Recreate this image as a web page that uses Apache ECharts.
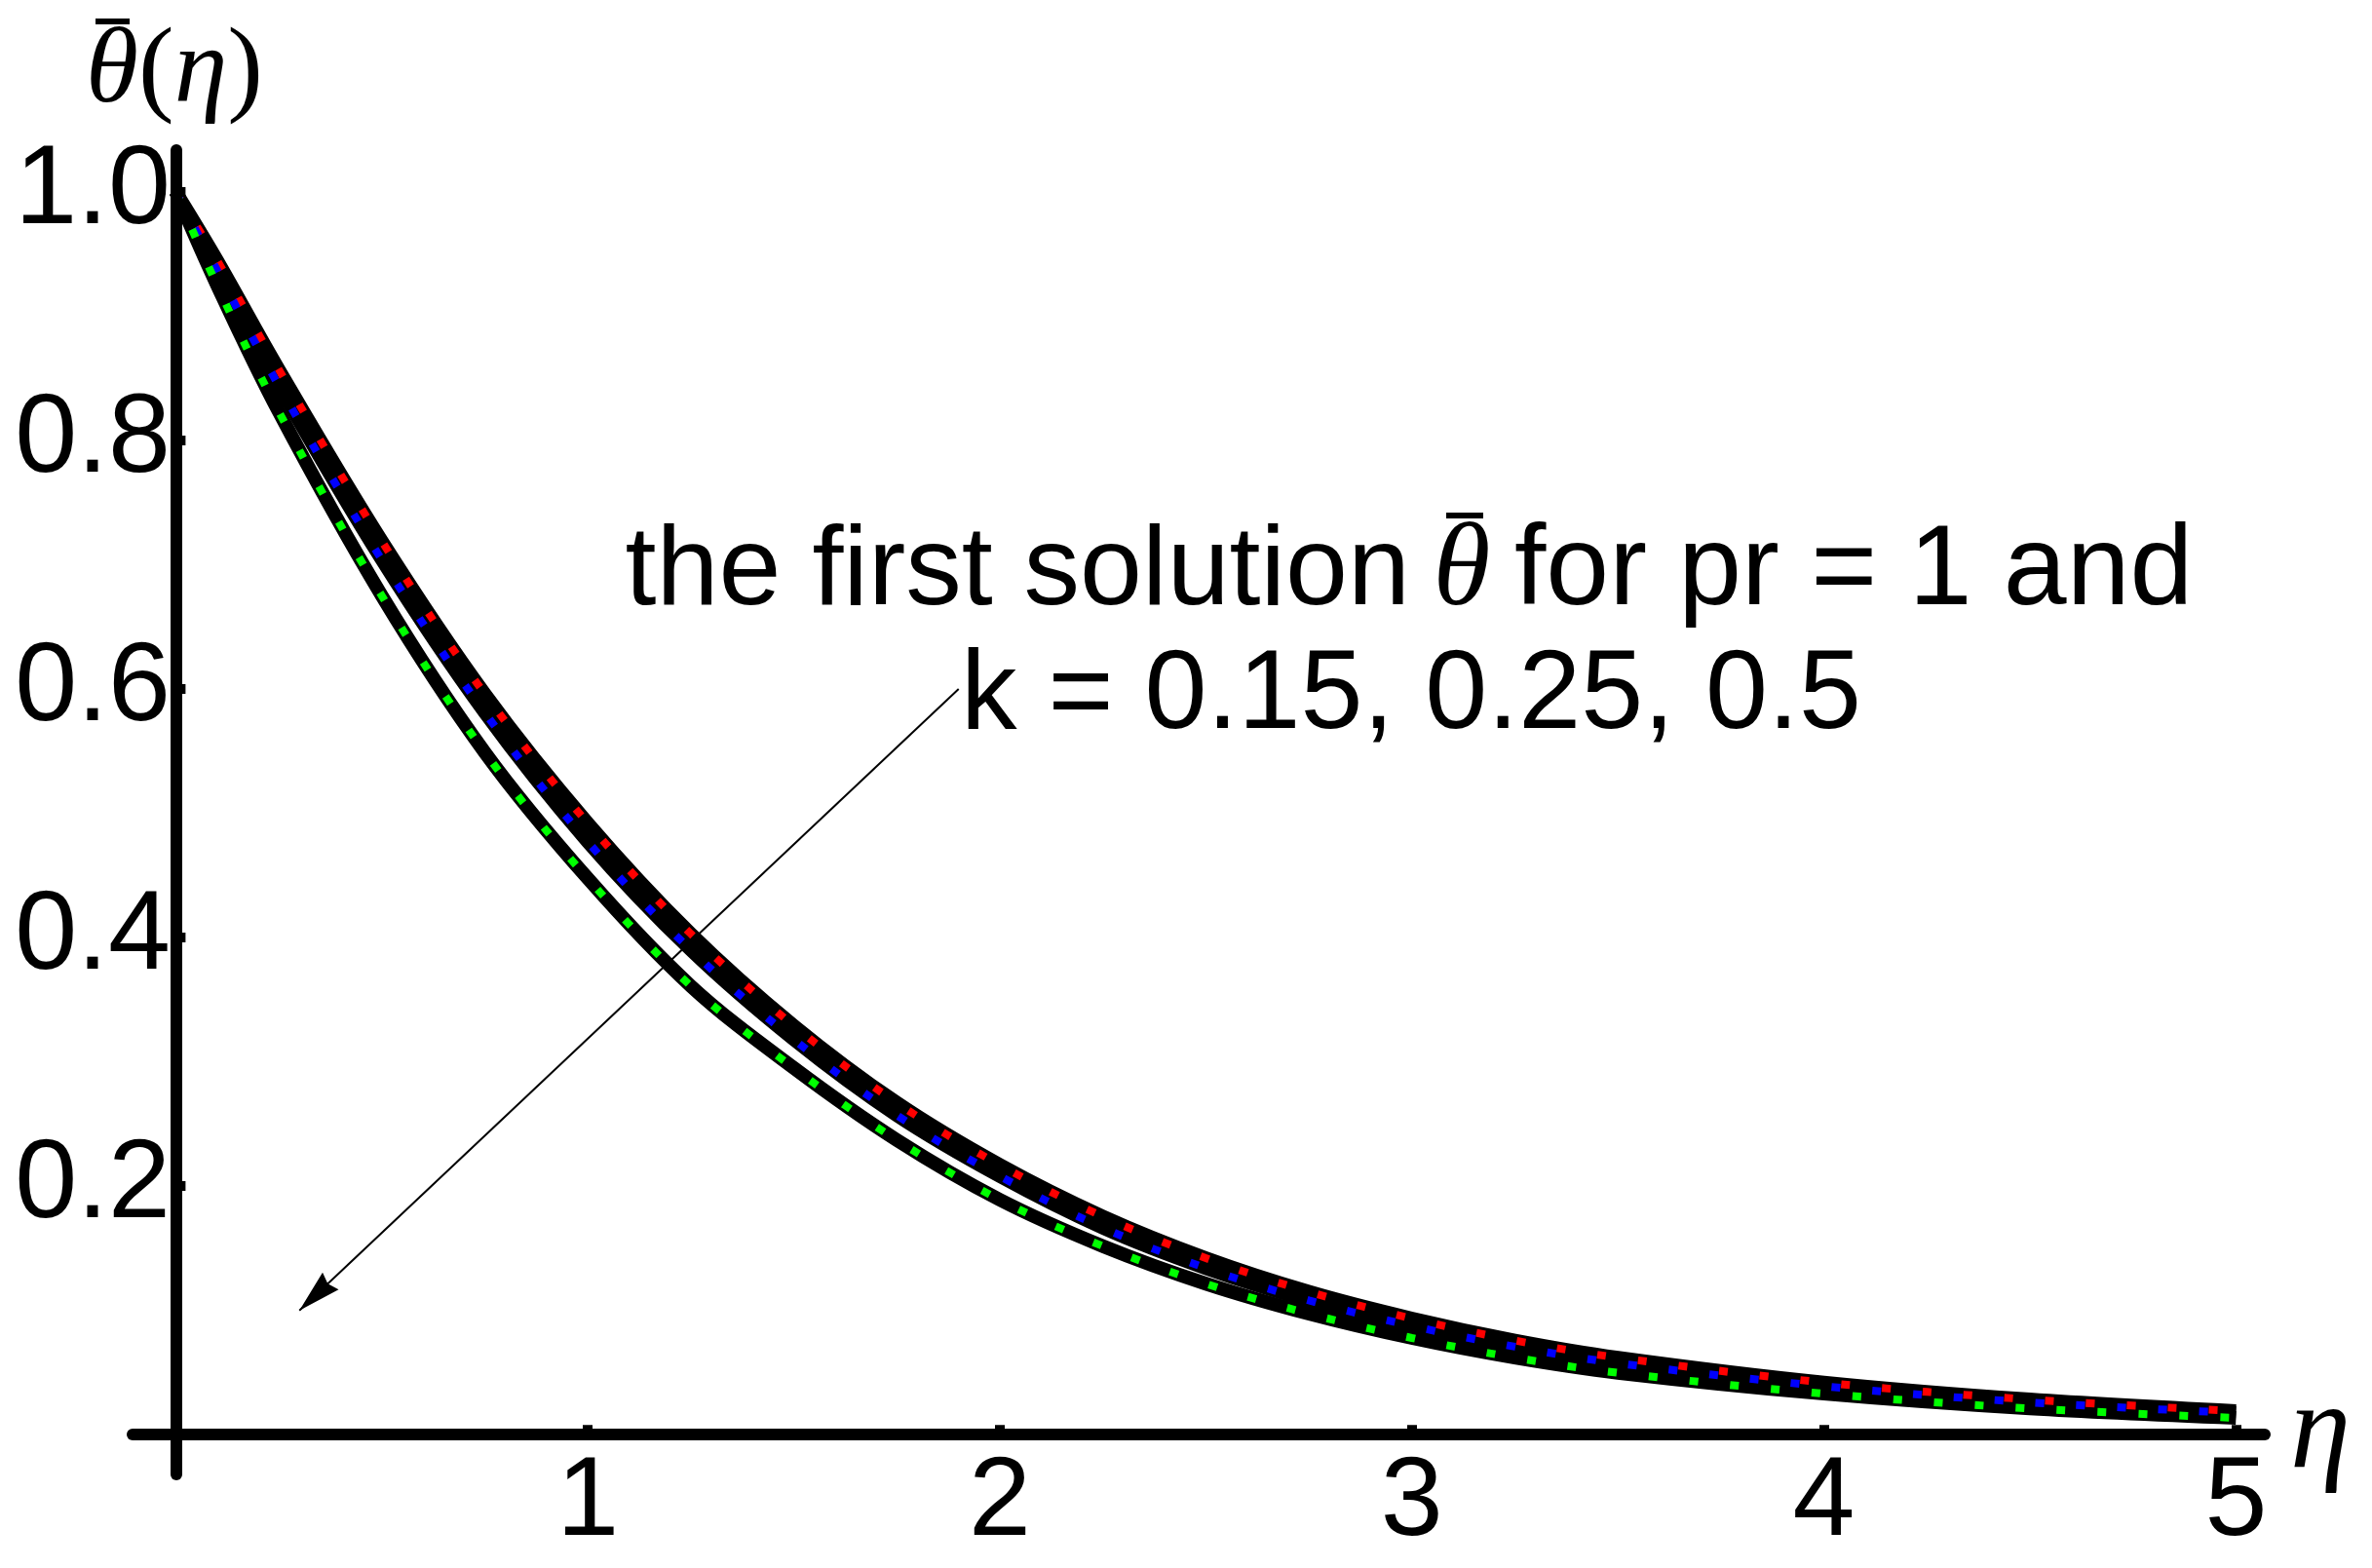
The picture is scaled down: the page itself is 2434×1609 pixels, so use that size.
<!DOCTYPE html>
<html><head><meta charset="utf-8">
<script src="https://cdn.jsdelivr.net/npm/echarts@6/dist/echarts.min.js"></script>
<style>html,body{margin:0;padding:0;background:#fff}#c{width:2434px;height:1609px}</style>
</head><body><div id="c"></div>
<script>
// eta grid and the three first-solution curves (pr = 1)
const eta       = [0, 0.1, 0.25, 0.5, 0.75, 1, 1.25, 1.5, 1.75, 2, 2.25, 2.5, 2.75, 3, 3.25, 3.5, 4, 4.5, 5];
const thetaK015 = [1.000, 0.945, 0.857, 0.719, 0.596, 0.492, 0.403, 0.329, 0.267, 0.217, 0.1755, 0.142, 0.115, 0.0935, 0.0758, 0.062, 0.042, 0.0283, 0.019];
const thetaK025 = [1.000, 0.937, 0.844, 0.704, 0.581, 0.477, 0.390, 0.318, 0.257, 0.208, 0.1665, 0.134, 0.108, 0.0875, 0.0708, 0.0575, 0.039, 0.026, 0.0175];
const thetaK05  = [1.000, 0.925, 0.823, 0.675, 0.549, 0.4475, 0.361, 0.295, 0.237, 0.189, 0.1517, 0.1215, 0.0974, 0.0778, 0.062, 0.0498, 0.033, 0.0211, 0.0135];
const xTicks = [1, 2, 3, 4, 5];
const yTicks = [0.2, 0.4, 0.6, 0.8, 1.0];
const yTickLabels = ['0.2', '0.4', '0.6', '0.8', '1.0'];
const xName = 'η';
const yTitle = '{i|θ}{p|(}{i|η}{p|)}';
const noteStart = 'the first solution';
const noteSymbol = 'θ';
const noteEnd = 'for pr = 1 and';
const noteLine2 = 'k = 0.15, 0.25, 0.5';
const arrowFrom = [1.9, 0.6];
const arrowTo = [0.3, 0.1];

const SANS = "'Liberation Sans', Arial, Helvetica, sans-serif";
const SERIF = "'Liberation Serif', 'Times New Roman', serif";

function pts(arr) { return eta.map((x, i) => [x, arr[i]]); }
function blackLine(arr) {
  return { type: 'line', data: pts(arr), symbol: 'none', smooth: 0.35,
    lineStyle: { color: '#000', width: 14 }, z: 2, silent: true, animation: false };
}
function dotLine(arr, color) {
  return { type: 'line', data: pts(arr), symbol: 'none', smooth: 0.35,
    lineStyle: { color: color, width: 8, type: [9, 33], cap: 'butt' }, z: 3, silent: true, animation: false };
}

const chart = echarts.init(document.getElementById('c'), null, { renderer: 'canvas' });
chart.setOption({
  backgroundColor: '#fff',
  animation: false,
  grid: { left: 136, right: 110, top: 154, bottom: 96, containLabel: false, outerBoundsMode: 'none' },
  xAxis: {
    type: 'value', min: -0.105, max: 5.07, z: 5,
    splitLine: { show: false },
    axisLine: { show: true, onZero: true, lineStyle: { color: '#000', width: 12 } },
    axisTick: { show: true, inside: true, length: 10, customValues: xTicks, lineStyle: { color: '#000', width: 10 } },
    axisLabel: { customValues: xTicks, margin: -27, fontSize: 115, fontFamily: SANS, color: '#000' },
    name: xName, nameLocation: 'end', nameGap: 26,
    nameTextStyle: { fontFamily: SERIF, fontStyle: 'italic', fontSize: 125, color: '#000', padding: [36, 0, 0, 0] }
  },
  yAxis: {
    type: 'value', min: -0.032, max: 1.0336, z: 5,
    splitLine: { show: false },
    axisLine: { show: true, onZero: true, lineStyle: { color: '#000', width: 12 } },
    axisTick: { show: true, inside: true, length: 10, customValues: yTicks, lineStyle: { color: '#000', width: 10 } },
    axisLabel: { customValues: yTicks, margin: -39, fontSize: 115, fontFamily: SANS, color: '#000',
      formatter: v => yTickLabels[yTicks.findIndex(t => Math.abs(t - v) < 1e-9)] }
  },
  series: [
    blackLine(thetaK015), blackLine(thetaK025), blackLine(thetaK05),
    dotLine(thetaK015, '#ff0000'), dotLine(thetaK025, '#0000ff'), dotLine(thetaK05, '#00ff00'),
    { type: 'line', data: [], silent: true, animation: false,
      markLine: { silent: true, animation: false,
        symbol: ['none', 'path://M0,0 L12,44 L0,40 L-12,44 Z'], symbolSize: [24, 44],
        symbolOffset: [0, [0, 22]],
        label: { show: false }, emphasis: { disabled: true },
        lineStyle: { color: '#000', width: 2, type: 'solid' },
        itemStyle: { color: '#000' },
        data: [[{ coord: arrowFrom }, { coord: arrowTo }]] } }
  ],
  graphic: [
    { type: 'text', x: 88, y: 75, z: 10, silent: true,
      style: { text: yTitle, fill: '#000', align: 'left', verticalAlign: 'middle',
        rich: { i: { fontFamily: SERIF, fontStyle: 'italic', fontSize: 110, lineHeight: 126 },
                p: { fontFamily: SERIF, fontSize: 110, lineHeight: 126 } } } },
    { type: 'rect', z: 10, silent: true, shape: { x: 98, y: 19, width: 35, height: 6 }, style: { fill: '#000' } },
    { type: 'text', x: 1447, y: 588, z: 10, silent: true,
      style: { text: noteStart, fontFamily: SANS, fontSize: 115, fill: '#000', align: 'right', verticalAlign: 'middle' } },
    { type: 'text', x: 1500, y: 588, z: 10, silent: true,
      style: { text: noteSymbol, fontFamily: SERIF, fontStyle: 'italic', fontSize: 120, fill: '#000', align: 'center', verticalAlign: 'middle' } },
    { type: 'rect', z: 10, silent: true, shape: { x: 1484, y: 526, width: 38, height: 6 }, style: { fill: '#000' } },
    { type: 'text', x: 1554, y: 588, z: 10, silent: true,
      style: { text: noteEnd, fontFamily: SANS, fontSize: 116.5, fill: '#000', align: 'left', verticalAlign: 'middle' } },
    { type: 'text', x: 1448, y: 715, z: 10, silent: true,
      style: { text: noteLine2, fontFamily: SANS, fontSize: 115, fill: '#000', align: 'center', verticalAlign: 'middle' } }
  ]
});
</script></body></html>
